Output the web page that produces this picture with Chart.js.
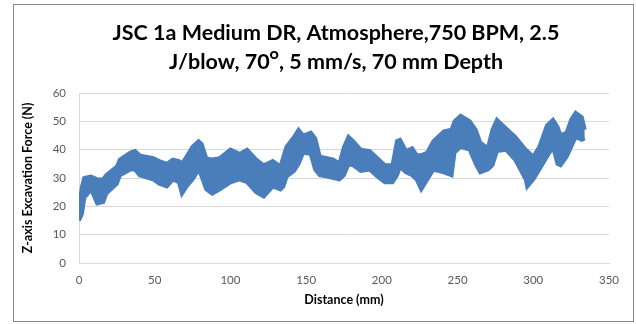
<!DOCTYPE html>
<html>
<head>
<meta charset="utf-8">
<script src="https://cdn.jsdelivr.net/npm/chart.js@4"></script>
<style>
  body { margin: 0; background: #fff; }
  #frame { position: absolute; left: 13px; top: 4px; width: 621px; height: 318px; box-sizing: border-box; border: 1px solid #898989; }
  #forceChart { position: absolute; left: 0; top: 0; }
</style>
</head>
<body>
<div id="frame"></div>
<canvas id="forceChart" width="636" height="324"></canvas>
<script>
// Khoảng cách (mm) và biên trên / biên dưới của dải lực đo được (N)
const distance = [0, 2, 3.5, 8, 12, 16, 18, 25, 27, 34, 37, 40, 49, 53, 58, 62, 66, 68, 71, 75, 79, 81, 84, 88, 93,
  100, 106, 111, 117, 122, 128, 133, 135, 137, 142, 145, 148, 153, 156, 159, 164, 168, 172, 175, 178, 181, 186,
  192, 197, 202, 207, 210, 212, 216, 220, 223, 226, 230, 234, 241, 246, 248, 252, 258, 262, 265, 270, 273, 276,
  282, 288, 295, 296, 300, 304, 309, 313, 316, 318, 322, 325, 328, 332, 334];
const forceHigh = [20, 27, 30, 30.5, 29.5, 29.5, 31, 34, 36.5, 39, 39.5, 38, 37, 36, 35, 36.5, 36, 35, 37.5, 41, 43, 42, 37, 36.5, 37,
  40, 38.5, 40, 36.5, 34.5, 36, 34, 37.5, 41, 44.5, 47, 45, 46, 44, 37.5, 37, 36.5, 35, 41, 44.5, 43, 40,
  39.5, 37, 34.5, 34.5, 43, 43.5, 39.5, 40.5, 38, 38, 39, 43, 46.5, 47, 50, 52, 50, 47, 42.5, 40.5, 47, 50.5,
  47.5, 44.5, 40, 39.5, 37.5, 41, 48.5, 50.5, 48, 45, 46, 50.5, 53, 51.5, 47];
const forceLow = [15, 17.5, 23, 26, 21, 21.5, 24.5, 28, 31, 33, 33, 31, 29.5, 28, 27, 29.5, 28.5, 24.5, 27, 29.5, 33, 30.5, 26, 24.5, 26,
  28.5, 29.5, 28.5, 25, 23.5, 27, 26, 27, 30.5, 32.5, 35, 39, 38.5, 33, 31, 30.5, 30, 29.5, 31, 35, 34.5, 32.5,
  33, 30.5, 28.5, 28.5, 31, 34, 32, 31, 29.5, 26, 29.5, 33, 32, 31, 39, 41, 40, 35, 32, 33, 34.5, 39.5,
  40, 36.5, 29.5, 27, 29.5, 33, 37.5, 41, 35, 34.5, 37.5, 41, 44.5, 43.5, 44];
const xTicks = [0, 50, 100, 150, 200, 250, 300, 350];
const yTicks = [0, 10, 20, 30, 40, 50, 60];
const titleLines = ['JSC 1a Medium DR, Atmosphere,750 BPM, 2.5', 'J/blow, 70\u1D3C, 5 mm/s, 70 mm Depth'];

const blue = '#4a7ebb';
const gridColor = '#d9d9d9';
const tickFont = { family: 'Lato', size: 11.5 };

// Tiêu đề vẽ tay, căn giữa theo khung
const frameTitle = {
    id: 'frameTitle',
    afterDraw(chart) {
        const c = chart.ctx;
        c.save();
        c.font = 'bold 21.5px Lato';
        c.fillStyle = '#000';
        c.textAlign = 'center';
        c.textBaseline = 'middle';
        titleLines.forEach((t, i) => c.fillText(t, 336, 33 + i * 29));
        c.restore();
    }
};

const ctx = document.getElementById('forceChart').getContext('2d');
const forceChart = new Chart(ctx, {
    type: 'scatter',
    data: {
        datasets: [{
            data: distance.map((d, i) => ({ x: d, y: forceHigh[i] })),
            showLine: true,
            borderColor: blue,
            borderWidth: 4,
            pointRadius: 0,
            fill: false,
        }, {
            data: distance.map((d, i) => ({ x: d, y: forceLow[i] })),
            showLine: true,
            borderColor: blue,
            backgroundColor: blue,
            borderWidth: 4,
            pointRadius: 0,
            fill: '-1',
        }]
    },
    options: {
        responsive: false,
        animation: false,
        layout: { padding: { left: 0, top: 93, right: 27, bottom: 0 } },
        plugins: {
            legend: { display: false },
            tooltip: { enabled: false },
            title: { display: false }
        },
        scales: {
            x: {
                type: 'linear',
                min: 0,
                max: 350,
                afterBuildTicks: (s) => { s.ticks = xTicks.map(v => ({ value: v })); },
                afterFit: (s) => { s.height = 61; },
                grid: { display: false, drawTicks: false },
                border: { display: true, color: gridColor, width: 1 },
                ticks: { color: '#595959', font: tickFont, padding: 10, maxRotation: 0 },
                title: {
                    display: true,
                    text: 'Distance (mm)',
                    color: '#000',
                    font: { family: 'Lato', size: 12.5, weight: 'bold' },
                    padding: { top: 0, bottom: 17 }
                }
            },
            y: {
                min: 0,
                max: 60,
                afterBuildTicks: (s) => { s.ticks = yTicks.map(v => ({ value: v })); },
                afterFit: (s) => { s.width = 79; },
                grid: { color: gridColor, lineWidth: 1, drawTicks: false },
                border: { display: true, color: gridColor, width: 1 },
                ticks: { color: '#595959', font: tickFont, padding: 13 },
                title: {
                    display: true,
                    text: 'Z-axis Excavation Force (N)',
                    color: '#000',
                    font: { family: 'Lato', size: 12.5, weight: 'bold' },
                    padding: { top: 20, bottom: 0 }
                }
            }
        }
    },
    plugins: [frameTitle]
});
</script>
</body>
</html>
